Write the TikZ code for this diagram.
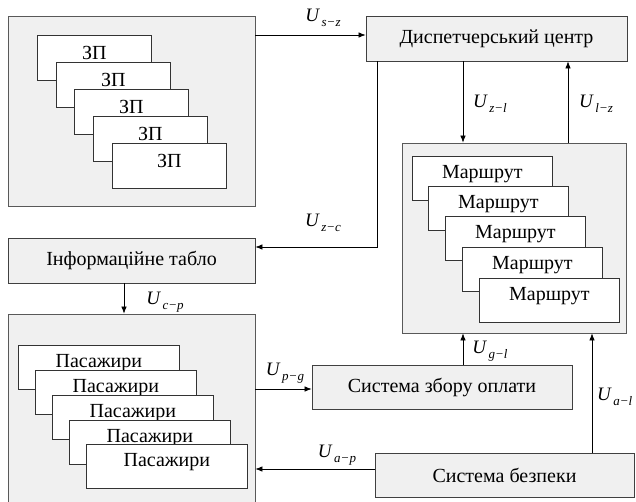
\documentclass[tikz,border=0pt]{standalone}
\usepackage{fontspec}
\setmainfont{Liberation Serif}
\usetikzlibrary{arrows.meta,calc}
\newcommand\Ulab[1]{\textit{U}\kern1.5pt\raisebox{-5pt}{\fontsize{13}{13}\selectfont\textit{#1}}}
\begin{document}
\begin{tikzpicture}[x=1pt,y=-1pt,
  grp/.style={draw=black!65, fill=black!6, line width=0.8pt, inner sep=0pt},
  blk/.style={draw=black!75, fill=black!6, line width=0.8pt, inner sep=0pt, font=\fontsize{20}{22}\selectfont},
  card/.style={draw=black!80, fill=white, line width=0.7pt, inner sep=0pt},
  ctext/.style={anchor=center, yshift=-18pt, inner sep=0pt, font=\fontsize{20}{22}\selectfont},
  arr/.style={line width=0.7pt, -{Latex[length=7pt,width=5.5pt]}},
  lbl/.style={inner sep=0pt, font=\fontsize{19}{20}\selectfont}]
\useasboundingbox (0,0) rectangle (636,501);
\clip (0,0) rectangle (636,501);
\fill[white] (0,0) rectangle (636,501);
% groups and blocks
\node[grp, minimum width=247pt, minimum height=190pt] (grpZ) at (131.5,111) {};
\node[blk, minimum width=261pt, minimum height=45pt] (disp) at (496.5,38.5) {Диспетчерський центр};
\node[blk, minimum width=247pt, minimum height=45pt] (info) at (131.5,260.5) {Інформаційне табло};
\node[grp, minimum width=224pt, minimum height=190pt] (grpM) at (514,238) {};
\node[grp, minimum width=247pt, minimum height=206pt] (grpP) at (131.5,417) {};
\node[blk, minimum width=260pt, minimum height=44pt] (pay) at (442,387) {Система збору оплати};
\node[blk, minimum width=259pt, minimum height=44pt] (sec) at (504.5,475) {Система безпеки};
% ZP cards
\foreach \i/\x/\y in {1/37/35, 2/56/62, 3/74/89, 4/93/116, 5/112/143}{
  \node[card, minimum width=114pt, minimum height=45pt, anchor=north west,
        label={[ctext]north:ЗП}] (z\i) at (\x,\y) {};
}
% route cards
\foreach \i/\x/\y in {1/412/156, 2/428/186, 3/445/216, 4/462/247, 5/479/278}{
  \node[card, minimum width=140pt, minimum height=44pt, anchor=north west,
        label={[ctext]north:Маршрут}] (m\i) at (\x,\y) {};
}
% passenger cards
\foreach \i/\x/\y in {1/18/345, 2/35/370, 3/52/395, 4/69/420, 5/86/444}{
  \node[card, minimum width=161pt, minimum height=44pt, anchor=north west,
        label={[ctext]north:Пасажири}] (p\i) at (\x,\y) {};
}
% helper coordinates
\coordinate (cA) at (377,247);
\coordinate (cB) at (463,0);
\coordinate (cC) at (568,0);
\coordinate (cD) at (124,0);
\coordinate (cE) at (0,389);
\coordinate (cF) at (0,469);
\coordinate (cG) at (592,0);
\coordinate (cH) at (0,35);
% connectors
\draw[arr] (grpZ.east |- cH) -- (disp.west |- cH);
\draw[arr] (disp.south -| cA) |- (info.east |- cA);
\draw[arr] (disp.south -| cB) -- (grpM.north -| cB);
\draw[arr] (grpM.north -| cC) -- (disp.south -| cC);
\draw[arr] (info.south -| cD) -- (grpP.north -| cD);
\draw[arr] (grpP.east |- cE) -- (pay.west |- cE);
\draw[arr] (pay.north -| cB) -- (grpM.south -| cB);
\draw[arr] (sec.west |- cF) -- (grpP.east |- cF);
\draw[arr] (sec.north -| cG) -- (grpM.south -| cG);
% labels
\node[lbl] (lsz) at (323,18) {\Ulab{s−z}};
\node[lbl] (lzc) at (323,223) {\Ulab{z−c}};
\node[lbl] (lzl) at (490,104) {\Ulab{z−l}};
\node[lbl] (llz) at (596,104) {\Ulab{l−z}};
\node[lbl] (lcp) at (165,302) {\Ulab{c−p}};
\node[lbl] (lpg) at (285,373) {\Ulab{p−g}};
\node[lbl] (lgl) at (490,351) {\Ulab{g−l}};
\node[lbl] (lap) at (337,455) {\Ulab{a−p}};
\node[lbl, anchor=west] (lal) at (597,397) {\Ulab{a−l}};
\end{tikzpicture}
\end{document}
